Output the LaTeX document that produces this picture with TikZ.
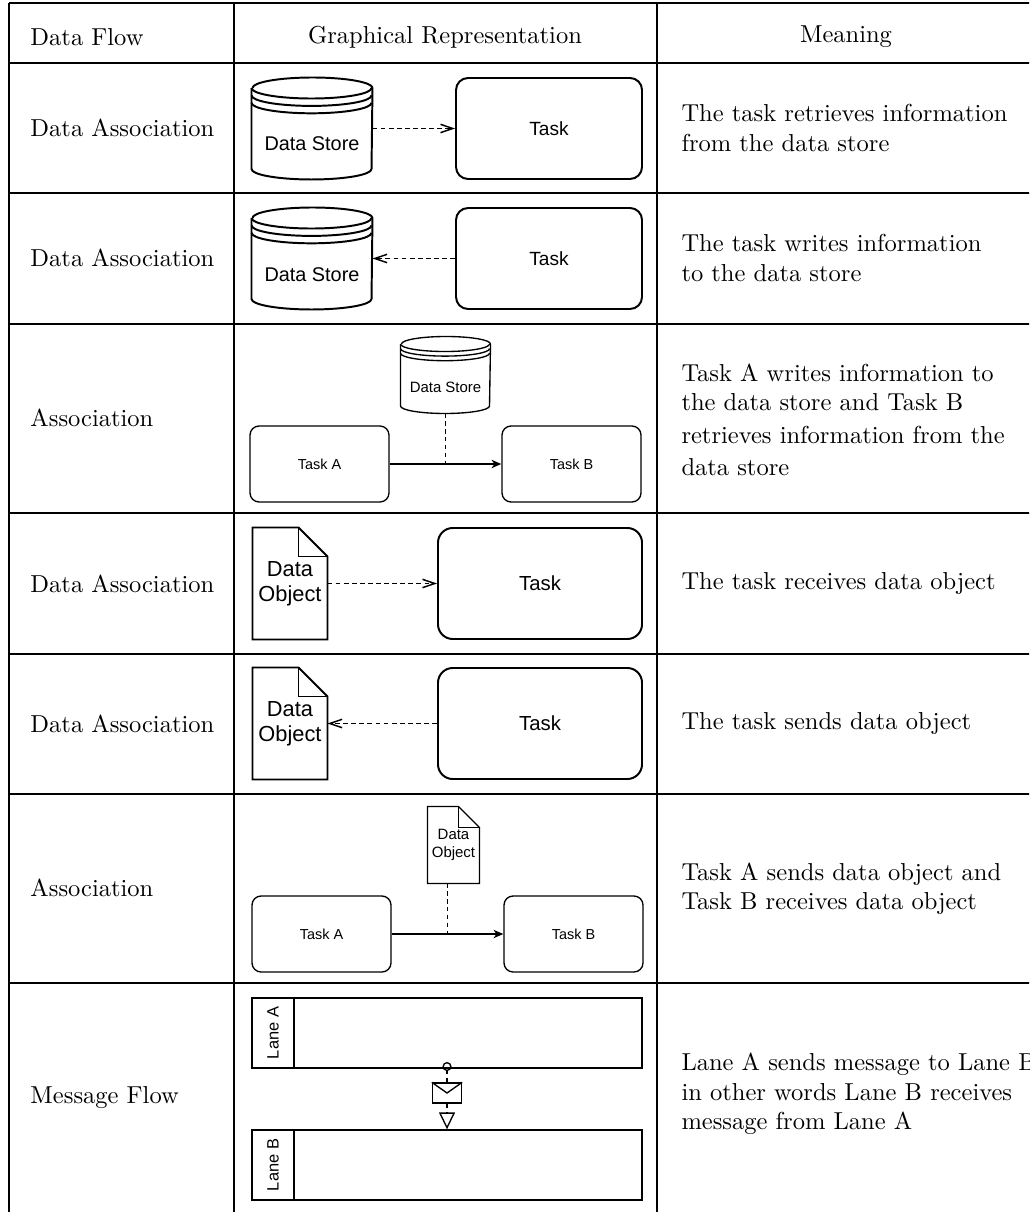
\documentclass[tikz,border=0pt]{standalone}
\usepackage{fontspec}
\newfontfamily\diafont{Liberation Sans}
\usetikzlibrary{positioning,arrows.meta,calc}

\newcommand{\pxu}{0.408pt}
% cylinder round a data store node
\newcommand{\storeoutline}[5]{%
  \draw[#1] ($(#2.north west)+(0,#4)$) -- ($(#2.south west)+(0,-#4)$)
    arc[start angle=180,end angle=0,x radius=#3,y radius=#4]
    -- ($(#2.north east)+(0,#4)$)
    arc[start angle=0,end angle=-180,x radius=#3,y radius=#4];
  \foreach \k in {0,1,2}
    \draw[#1] ($(#2.north west)+(0,#4+\k*#5)$)
      arc[start angle=180,end angle=0,x radius=#3,y radius=#4];}
% page with a folded corner round a data object node
\newcommand{\objoutline}[3]{%
  \draw[#1] (#2.north west) -- ($(#2.north east)+(-#3,0)$)
    -- ($(#2.north east)+(0,#3)$) -- (#2.south east)
    -- (#2.south west) -- cycle;
  \draw[#1] ($(#2.north east)+(-#3,0)$) -- ++(0,#3) -- ($(#2.north east)+(0,#3)$);}

\begin{document}
\begin{tikzpicture}[x=0.408pt,y=-0.408pt,
    grid/.style={line width=0.45pt},
    cell/.style={inner sep=0pt,anchor=west,align=left},
    head/.style={inner sep=0pt},
    task/.style={draw,line width=0.8pt,rounded corners=4.9pt,
      minimum width=186*\pxu,minimum height=101*\pxu,
      font=\diafont\fontsize{7.8}{9}\selectfont},
    wide task/.style={task,rounded corners=6pt,
      minimum width=204*\pxu,minimum height=111*\pxu,
      font=\diafont\fontsize{8.3}{10}\selectfont},
    small task/.style={draw,line width=0.55pt,rounded corners=3.7pt,
      minimum width=139*\pxu,minimum height=76*\pxu,
      font=\diafont\fontsize{5.9}{7}\selectfont},
    store/.style={minimum width=120*\pxu,minimum height=101*\pxu,inner sep=0pt},
    small store/.style={minimum width=89*\pxu,minimum height=76*\pxu,inner sep=0pt},
    store text/.style={inner sep=0pt,font=\diafont\fontsize{8.1}{9.7}\selectfont},
    small store text/.style={inner sep=0pt,font=\diafont\fontsize{6.1}{7.3}\selectfont},
    obj/.style={minimum width=74*\pxu,minimum height=111*\pxu,inner sep=0pt,
      align=center,font=\diafont\fontsize{8.9}{10.2}\selectfont},
    small obj/.style={minimum width=51*\pxu,minimum height=76*\pxu,inner sep=0pt,
      align=center,font=\diafont\fontsize{6.1}{7.3}\selectfont},
    lane/.style={draw,line width=0.55pt,minimum width=348*\pxu,minimum height=70*\pxu},
    lane tag/.style={draw,line width=0.55pt,rotate=90,
      minimum width=70*\pxu,minimum height=42*\pxu,
      font=\diafont\fontsize{6.7}{8}\selectfont},
    envelope/.style={draw,line width=0.55pt,minimum width=29*\pxu,
      minimum height=20*\pxu,inner sep=0pt},
    assoc/.style={line width=0.6pt,dash pattern=on 2pt off 1.3pt,
      -{Straight Barb[length=5pt,width=3.4pt]}},
    flow/.style={line width=0.55pt,-{Stealth[length=4pt,width=3.4pt,inset=1.2pt]}},
    link/.style={line width=0.55pt,dash pattern=on 1.8pt off 1.4pt},
    msg/.style={line width=0.55pt,dash pattern=on 1.6pt off 1.6pt}]
  \path[use as bounding box,clip] (0,0) rectangle (1029,1212);

  % table rules
  \foreach \yy in {3,63,193,324,513,654,794,983}
    \draw[grid] (9,\yy) -- (1040,\yy);
  \foreach \xx in {9,234,657}
    \draw[grid] (\xx,3) -- (\xx,1230);

  % header
  \node[cell] (h1) at (30,37) {Data Flow};
  \node[head] (h2) at (445,37) {Graphical Representation};
  \node[head] (h3) at (846,37) {Meaning};

  % row 1
  \node[cell] (f1) at (30,128) {Data Association};
  \node[store] (ds1) at (312,128.5) {};
  \storeoutline{line width=0.8pt}{ds1}{60}{10.5}{7.4}
  \node[store text] (ds1 label) at ($(ds1)+(0,15.5)$) {Data Store};
  \node[task] (t1) at (549,128.5) {Task};
  \draw[assoc] (ds1.east) -- (t1.west);
  \node[cell] (m1) at (681,128) {The task retrieves information\\from the data store};

  % row 2
  \node[cell] (f2) at (30,258) {Data Association};
  \node[store] (ds2) at (312,258.5) {};
  \storeoutline{line width=0.8pt}{ds2}{60}{10.5}{7.4}
  \node[store text] (ds2 label) at ($(ds2)+(0,16.5)$) {Data Store};
  \node[task] (t2) at (549,258.5) {Task};
  \draw[assoc] (t2.west) -- (ds2.east);
  \node[cell] (m2) at (681,258) {The task writes information\\to the data store};

  % row 3
  \node[cell] (f3) at (30,418) {Association};
  \node[small store] (ds3) at (445.5,375) {};
  \storeoutline{line width=0.55pt}{ds3}{44.5}{7.5}{4.6}
  \node[small store text] (ds3 label) at ($(ds3)+(0,12)$) {Data Store};
  \node[small task] (ta3) at (319.5,464) {Task A};
  \node[small task] (tb3) at (571.5,464) {Task B};
  \draw[flow] (ta3) -- (tb3);
  \coordinate (j3) at ($(ta3.east)!0.5!(tb3.west)$);
  \draw[link] (j3 |- ds3.south) -- (j3);
  \node[cell] (m3) at (681,420) {Task A writes information to\\the data store and Task B\\[1.3pt]retrieves information from the\\[1.3pt]data store};

  % row 4
  \node[cell] (f4) at (30,584) {Data Association};
  \node[obj] (o4) at (290,583.5) {Data\\Object};
  \objoutline{line width=0.8pt}{o4}{29}
  \node[wide task] (t4) at (540,583.5) {Task};
  \draw[assoc] (o4.east) -- (t4.west);
  \node[cell] (m4) at (681,584) {The task receives data object};

  % row 5
  \node[cell] (f5) at (30,724) {Data Association};
  \node[obj] (o5) at (290,723.5) {Data\\Object};
  \objoutline{line width=0.8pt}{o5}{29}
  \node[wide task] (t5) at (540,723.5) {Task};
  \draw[assoc] (t5.west) -- (o5.east);
  \node[cell] (m5) at (681,724) {The task sends data object};

  % row 6
  \node[cell] (f6) at (30,888) {Association};
  \node[small obj] (o6) at (453.5,845) {Data\\Object};
  \objoutline{line width=0.55pt}{o6}{21}
  \node[small task] (ta6) at (321.5,934) {Task A};
  \node[small task] (tb6) at (573.5,934) {Task B};
  \draw[flow] (ta6) -- (tb6);
  \coordinate (j6) at ($(ta6.east)!0.5!(tb6.west)$);
  \draw[link] (j6 |- o6.south) -- (j6);
  \node[cell] (m6) at (681,889) {Task A sends data object and\\Task B receives data object};

  % row 7
  \node[cell] (f7) at (30,1098) {Message Flow};
  \node[lane tag] (la tag) at (273,1033) {Lane A};
  \node[lane] (la) at (468,1033) {};
  \node[lane tag] (lb tag) at (273,1165) {Lane B};
  \node[lane] (lb) at (468,1165) {};
  \coordinate (msrc) at (447,1062);
  \node[envelope] (env) at (447,1093) {};
  \draw[line width=0.55pt] (env.north west) -- (env.center) -- (env.north east);
  \draw[msg,{Circle[open,length=3.7pt]}-] (msrc) -- (env.north);
  \draw[msg,-{Triangle[open,length=6.9pt,width=6.5pt]}] (env.south) -- (env.south |- lb.north);
  \node[cell] (m7) at (681,1094) {Lane A sends message to Lane B\\in other words Lane B receives\\message from Lane A};
\end{tikzpicture}
\end{document}
